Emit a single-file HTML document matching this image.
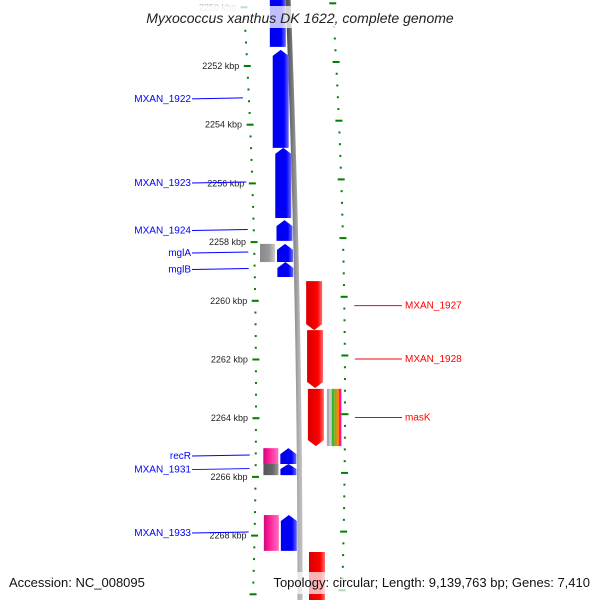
<!DOCTYPE html>
<html><head><meta charset="utf-8"><style>
body{margin:0;background:#fff;}
svg{display:block;font-family:"Liberation Sans",sans-serif;}
</style></head><body>
<svg id="c" width="600" height="600" viewBox="0 0 600 600" xmlns="http://www.w3.org/2000/svg">
<defs>
<linearGradient id="gb" x1="0" x2="1"><stop offset="0" stop-color="#0000e8"/><stop offset="0.7" stop-color="#0000ff"/><stop offset="1" stop-color="#6a6aff"/></linearGradient>
<linearGradient id="gr" x1="0" x2="1"><stop offset="0" stop-color="#d80000"/><stop offset="0.7" stop-color="#ff0000"/><stop offset="1" stop-color="#ff7070"/></linearGradient>
<linearGradient id="gg" x1="0" x2="1"><stop offset="0" stop-color="#888"/><stop offset="0.6" stop-color="#999"/><stop offset="1" stop-color="#ccc"/></linearGradient>
<linearGradient id="gp" x1="0" x2="1"><stop offset="0" stop-color="#c0107a"/><stop offset="0.3" stop-color="#ff1493"/><stop offset="1" stop-color="#ff70c0"/></linearGradient>
<linearGradient id="gd" x1="0" x2="1"><stop offset="0" stop-color="#555"/><stop offset="0.6" stop-color="#666"/><stop offset="1" stop-color="#999"/></linearGradient>
<linearGradient id="gl" x1="0" x2="1"><stop offset="0" stop-color="#555"/><stop offset="0.5" stop-color="#888"/><stop offset="1" stop-color="#bbb"/></linearGradient>
</defs>
<g id="ticks"></g>
<g id="backbone"></g>
<g id="genes"></g>
<g id="labels"></g>
<rect x="125" y="6" width="350" height="22" fill="#fff" opacity="0.75"/>
<text x="300" y="23" text-anchor="middle" font-size="14" font-style="italic" fill="#222">Myxococcus xanthus DK 1622, complete genome</text>
<rect x="258" y="572" width="335" height="22" fill="#fff" opacity="0.7"/>
<text x="9" y="587" font-size="13" fill="#111">Accession: NC_008095</text>
<text x="590" y="587" text-anchor="end" font-size="13" fill="#111">Topology: circular; Length: 9,139,763 bp; Genes: 7,410</text>
</svg>
<script>
const tickKbp=[2250,2252,2254,2256,2258,2260,2262,2264,2266,2268];
const geneNames=["MXAN_1921","MXAN_1922","MXAN_1923","MXAN_1924","mglA","mglB","recR","MXAN_1931","MXAN_1933","MXAN_1927","MXAN_1928","masK","MXAN_1935"];
const geneStart=[2249.4,2251.45,2254.79,2257.25,2258.06,2258.68,2265.02,2265.56,2267.30,2259.33,2261.0,2263.0,2268.56];
const geneEnd=[2251.35,2254.79,2257.18,2257.96,2258.68,2259.19,2265.56,2265.94,2268.52,2261.0,2262.97,2264.95,2270.6];
const geneStrand=[-1,-1,-1,-1,-1,-1,-1,-1,-1,1,1,1,1];
const labelShown=[false,true,true,true,true,true,true,true,true,true,true,true,false];
const featStart=[2258.06,2265.02,2265.56,2267.30,2263.0];
const featEnd=[2258.68,2265.56,2265.94,2268.52,2264.95];
const featFill=["url(#gg)","url(#gp)","url(#gd)","url(#gp)","stripe"];
const featSide=[-1,-1,-1,-1,1];

const NS="http://www.w3.org/2000/svg";
const Y=k=>66+(k-2252)*29.35;
const xl=y=>256-7.8e-5*(y-400)*(y-400);
const xg=y=>300-3.3e-5*(y-600)*(y-600);
function mk(tag,attrs,parent){const e=document.createElementNS(NS,tag);for(const a in attrs)e.setAttribute(a,attrs[a]);parent.appendChild(e);return e;}
const T=document.getElementById('ticks'),B=document.getElementById('backbone'),G=document.getElementById('genes'),L=document.getElementById('labels');

// ticks
for(let k=2249.6;k<=2271;k+=0.4){
  const y=Y(k);if(y<-5||y>605)continue;
  const major=Math.abs((k-2250)/2-Math.round((k-2250)/2))<0.01;
  [0,1].forEach(side=>{
    const yy=side?y-4:y;const cx=side?xl(yy)+89:xl(yy);
    const w=major?7:2;
    const r=mk('rect',{x:cx-w/2,y:yy-1,width:w,height:2,fill:'#008000'},T);
    
    
  });
}
tickKbp.forEach(k=>{
  const y=Y(k);
  const t=mk('text',{x:xl(y)-8,y:y+3,'text-anchor':'end','font-size':'9',fill:k===2250?'#bbb':'#222'},T);
  t.textContent=k+' kbp';
  
  
});

// backbone
let d='';for(let y=-5;y<=605;y+=5){d+=(y===-5?'M':'L')+xg(y).toFixed(2)+' '+y;}
const bb=mk('path',{d:d,stroke:'url(#gl)','stroke-width':5,fill:'none'},B);



// genes
geneNames.forEach((n,i)=>{
  const y1=Y(geneStart[i]),y2=Y(geneEnd[i]);const s=geneStrand[i];
  const ym=(y1+y2)/2,g=xg(ym);
  const a=s<0?g-19:g+9,b=s<0?g-3:g+25,h=Math.min(6,(y2-y1)*0.45),c=(a+b)/2;
  let pts;
  if(s<0) pts=[[c,y1],[b,y1+h],[b,y2],[a,y2],[a,y1+h]];
  else pts=[[a,y1],[b,y1],[b,y2-h],[c,y2],[a,y2-h]];
  const p=mk('polygon',{points:pts.map(q=>q.join(',')).join(' '),fill:s<0?'url(#gb)':'url(#gr)'},G);
  
  
  if(labelShown[i]){
    const ly=ym;
    if(s<0){
      const ln=mk('line',{x1:192,y1:ly,x2:xl(ly)-6,y2:ly-1,stroke:'#0000ff','stroke-width':1},L);
      
      
      const t=mk('text',{x:191,y:ly+3,'text-anchor':'end','font-size':'10',fill:'#0000ff'},L);
      t.textContent=n;
      
      
    } else {
      const ln=mk('line',{x1:xl(ly)+99,y1:ly,x2:402,y2:ly,stroke:'#ff0000','stroke-width':1},L);
      
      
      const t=mk('text',{x:405,y:ly+3,'font-size':'10',fill:'#ff0000'},L);
      t.textContent=n;
      
      
    }
  }
});
// features
featStart.forEach((f,i)=>{
  const y1=Y(f),y2=Y(featEnd[i]),g=xg((y1+y2)/2);
  const a=featSide[i]<0?g-36:g+28;
  if(featFill[i]==='stripe'){
    const cols=['#aaa','#ccc','#33bb33','#88aa22','#ff8800','#ff1493'];
    cols.forEach((col,j)=>{
      const r=mk('rect',{x:a+j*2.4,y:y1,width:2.5,height:y2-y1,fill:col},G);
      
      
    });
  } else {
    const r=mk('rect',{x:a,y:y1,width:15,height:y2-y1,fill:featFill[i]},G);
    
    
  }
});
</script>
</body></html>
